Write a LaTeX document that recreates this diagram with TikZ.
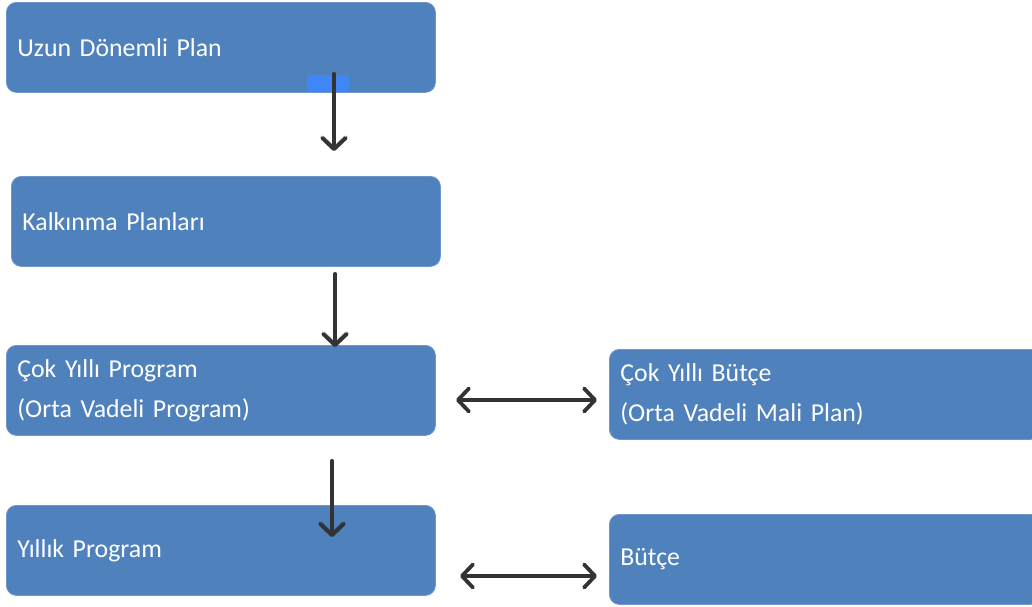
\documentclass[tikz,border=0pt]{standalone}
\usepackage{fontspec}
\setmainfont{Carlito}
\usetikzlibrary{arrows.meta}
\definecolor{boxblue}{HTML}{4F81BD}
\definecolor{boxedge}{HTML}{6E97CB}
\definecolor{patchblue}{HTML}{3F87F5}
\definecolor{arrowgray}{HTML}{333333}
\tikzset{mytip/.tip={Straight Barb[length=11pt,width=23pt,round]}}
\begin{document}
\begin{tikzpicture}[x=1pt,y=-1pt,
  box/.style={draw=boxedge, line width=0.8pt, fill=boxblue, rounded corners=10pt,
    text=white, align=left, anchor=north west, inner xsep=11pt, inner ysep=0pt,
    minimum height=90pt, font=\fontsize{25.8}{40}\selectfont},
  leftbox/.style={box, text width=407pt},
  rightbox/.style={box, text width=409pt},
  conn/.style={draw=arrowgray, line width=3.8pt, line cap=round},
  shade/.style={draw=black, opacity=0.3, line width=4.5pt, line cap=round}
]
\useasboundingbox (0,0) rectangle (1032,606);
\clip (0,0) rectangle (1032,606);
\fill[white] (0,0) rectangle (1032,606);

\node[leftbox] (b1) at (6,2) {Uzun Dönemli Plan};
\node[leftbox] (b2) at (11,176) {Kalkınma Planları};
\node[leftbox] (b3) at (6,345) {Çok Yıllı Program\\(Orta Vadeli Program)};
\node[leftbox] (b4) at (6,505) {Yıllık Program};
\node[rightbox] (b5) at (609,349) {Çok Yıllı Bütçe\\(Orta Vadeli Mali Plan)};
\node[rightbox] (b6) at (609,514) {Bütçe};

\fill[patchblue] (307,75) rectangle (349,92);

\coordinate (a1s) at (334,74);
\coordinate (a1e) at (334,151);
\coordinate (a2s) at (335,274);
\coordinate (a2e) at (335,347);
\coordinate (a3s) at (332,461);
\coordinate (a3e) at (332,537);
\coordinate (h1s) at (456,400);
\coordinate (h1e) at (597,400);
\coordinate (h2s) at (460,576);
\coordinate (h2e) at (597,576);

\begin{scope}[shift={(1.5,3)}]
  \draw[shade,-mytip] (a1s) -- (a1e);
  \draw[shade,-mytip] (a2s) -- (a2e);
  \draw[shade,-mytip] (a3s) -- (a3e);
\end{scope}
\draw[conn,-mytip] (a1s) -- (a1e);
\draw[conn,-mytip] (a2s) -- (a2e);
\draw[conn,-mytip] (a3s) -- (a3e);
\draw[conn,mytip-mytip] (h1s) -- (h1e);
\draw[conn,mytip-mytip] (h2s) -- (h2e);
\end{tikzpicture}
\end{document}
